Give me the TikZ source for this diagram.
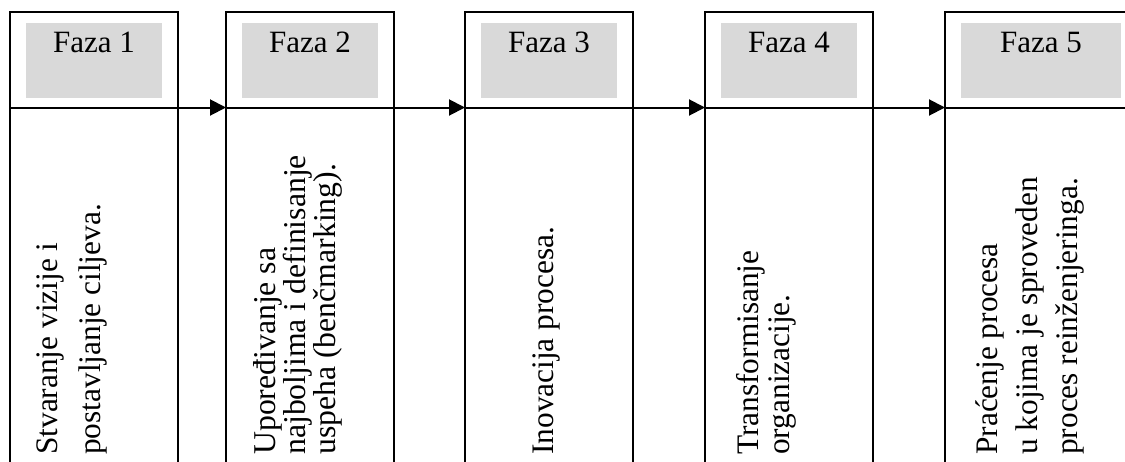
\documentclass[tikz,border=0pt]{standalone}
\usepackage{fontspec}
\setmainfont{Liberation Serif}
\usetikzlibrary{arrows.meta}
\definecolor{headgray}{RGB}{217,217,217}
\begin{document}
\begin{tikzpicture}[x=0.75pt,y=-0.75pt,
  cell/.style={draw, line width=1.5pt, outer sep=0pt, inner sep=0pt,
    anchor=north west, minimum width=126pt},
  head/.style={cell, minimum height=71.625pt},
  body/.style={cell, minimum height=276pt},
  shade/.style={fill=headgray, draw=none, outer sep=0pt, inner sep=0pt,
    anchor=north west, minimum width=102pt, minimum height=55.9pt},
  phase/.style={font=\fontsize{23.25}{28}\selectfont, anchor=base, inner sep=0pt},
  descline/.style={rotate=90, anchor=base west, inner sep=0pt,
    font=\fontsize{23.5}{28}\selectfont},
  flow/.style={line width=1.5pt, -{Triangle[length=12pt,width=12pt]}}
]
\useasboundingbox (0,0) rectangle (1125,461);
\clip (0,0) rectangle (1125,461);

% phase columns: header cell on top, description cell below
\node[head] (h1) at (10,12) {};
\node[head] (h2) at (226,12) {};
\node[head] (h3) at (465,12) {};
\node[head] (h4) at (705,12) {};
\node[head, minimum width=144.75pt] (h5) at (945,12) {};
\foreach \i in {1,...,4} {\node[body] (b\i) at (h\i.south west) {};}
\node[body, minimum width=144.75pt] (b5) at (h5.south west) {};

% grey title fields
\foreach \i in {1,...,4} {\node[shade] (g\i) at ([xshift=12pt,yshift=-8.25pt]h\i.north west) {};}
\node[shade, minimum width=120pt] (g5) at ([xshift=12pt,yshift=-8.25pt]h5.north west) {};
\foreach \i in {1,...,5} {\node[phase] (f\i) at ([yshift=-21.75pt]g\i.north) {Faza \i};}

% flow between the phases
\draw[flow] (h1.south east) -- (h2.south west);
\draw[flow] (h2.south east) -- (h3.south west);
\draw[flow] (h3.south east) -- (h4.south west);
\draw[flow] (h4.south east) -- (h5.south west);

% descriptions, one line per node, written bottom to top
\node[descline] (t1a) at (57,455) {Stvaranje vizije i};
\node[descline] (t1b) at (100,455) {postavljanje ciljeva.};

\node[descline, font=\fontsize{23.8}{28}\selectfont] (t2a) at (275,455) {Upoređivanje sa};
\node[descline, font=\fontsize{23.8}{28}\selectfont] (t2b) at (305,455) {najboljima i definisanje};
\node[descline, font=\fontsize{23.8}{28}\selectfont] (t2c) at (335,455) {uspeha (benčmarking).};

\node[descline] (t3a) at (553,455) {Inovacija procesa.};

\node[descline] (t4a) at (758,455) {Transformisanje};
\node[descline] (t4b) at (789,455) {organizacije.};

\node[descline] (t5a) at (997,455) {Praćenje procesa};
\node[descline] (t5b) at (1037,455) {u kojima je sproveden};
\node[descline] (t5c) at (1077,455) {proces reinženjeringa.};
\end{tikzpicture}
\end{document}
